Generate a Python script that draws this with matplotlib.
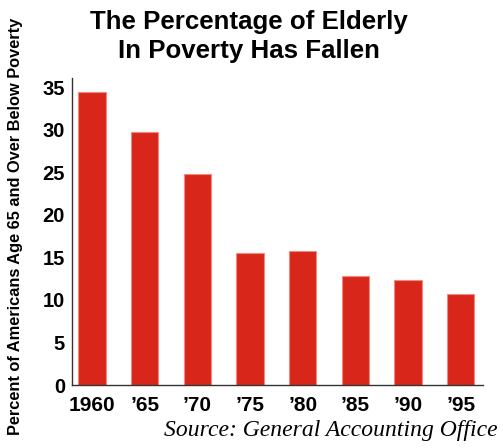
import matplotlib.pyplot as plt
import numpy as np

years = ["1960", "\u201965", "\u201970", "\u201975", "\u201980", "\u201985", "\u201990", "\u201995"]
pct_poverty = [34.5, 29.8, 24.8, 15.5, 15.8, 12.8, 12.4, 10.7]
yticks = [0, 5, 10, 15, 20, 25, 30, 35]

plt.rcParams['font.family'] = ['Liberation Sans', 'DejaVu Sans']

fig = plt.figure(figsize=(5.03, 4.48), dpi=100)
ax = fig.add_axes([0.1431, 0.1406, 0.8166, 0.6854])

x = np.arange(len(years))
ax.bar(x, pct_poverty, width=0.52, color='#d9261a', edgecolor='#f08a80', linewidth=0.8)

ax.set_xlim(-0.38, 7.42)
ax.set_ylim(0, 36.1)
ax.set_xticks(x)
ax.set_xticklabels(years, fontsize=15, fontweight='bold')
ax.set_yticks(yticks)
ax.set_yticklabels([str(t) for t in yticks], fontsize=14.5, fontweight='bold')
ax.tick_params(length=0)
ax.tick_params(axis='x', pad=8)
ax.tick_params(axis='y', pad=5)

for side in ['top', 'right']:
    ax.spines[side].set_visible(False)
for side in ['left', 'bottom']:
    ax.spines[side].set_color('#333333')
    ax.spines[side].set_linewidth(1.0)

fig.text(0.03, 0.494, "Percent of Americans Age 65 and Over Below Poverty",
         rotation=90, ha='center', va='center', fontsize=11.8, fontweight='bold')

fig.text(0.495, 0.978, "The Percentage of Elderly\nIn Poverty Has Fallen",
         ha='center', va='top', fontsize=18.6, fontweight='bold', linespacing=1.25)
fig.text(0.99, 0.015, "Source: General Accounting Office", ha='right', va='bottom',
         fontsize=17, style='italic', family='Liberation Serif')

fig.savefig("out.png", dpi=100)
